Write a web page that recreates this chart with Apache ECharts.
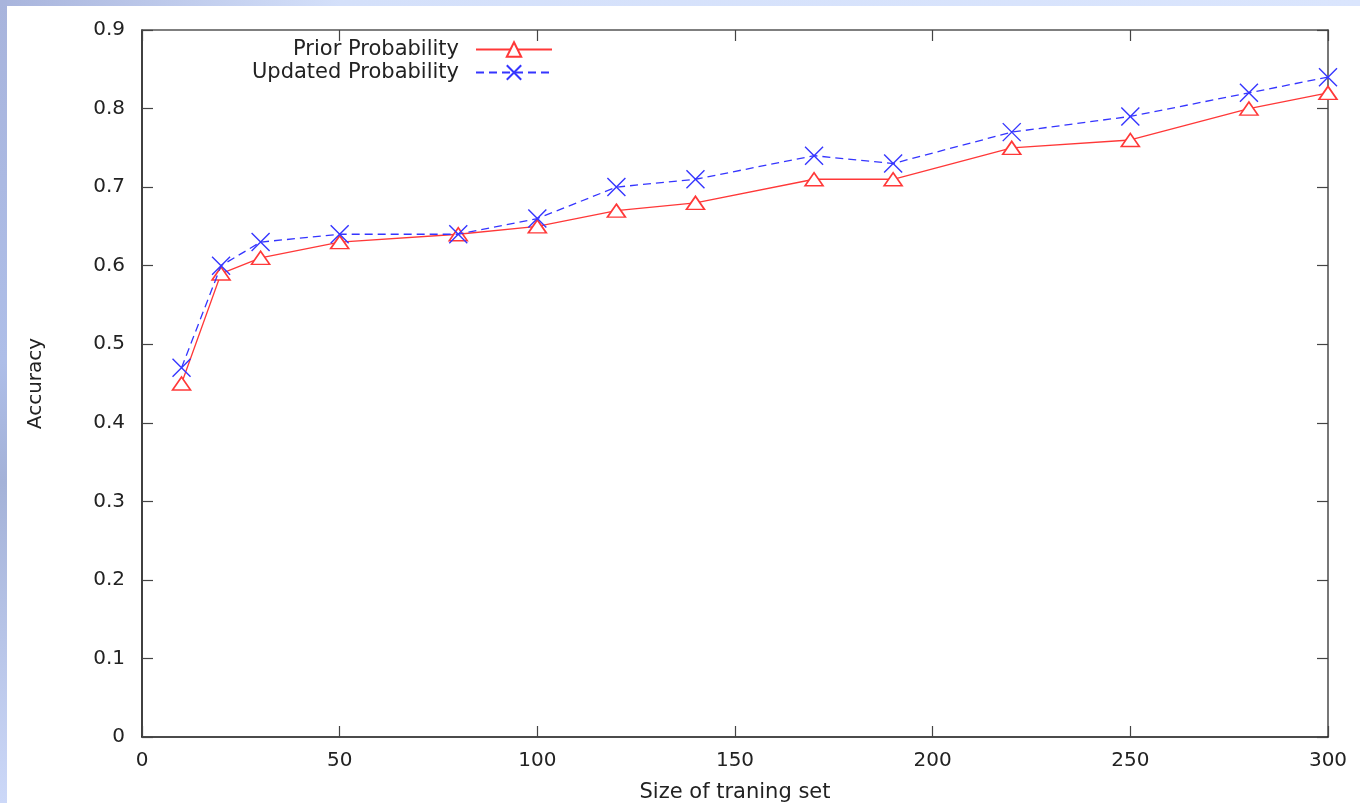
<!DOCTYPE html>
<html>
<head>
<meta charset="utf-8">
<script src="https://cdn.jsdelivr.net/npm/echarts@6/dist/echarts.min.js"></script>
<style>
  html, body { margin: 0; padding: 0; background: #fff; }
  #chart { width: 1370px; height: 803px; }
</style>
</head>
<body>
<div id="chart"></div>
<script>
// training set sizes
const trainSizes = [10, 20, 30, 50, 80, 100, 120, 140, 170, 190, 220, 250, 280, 300]
// accuracy values
const priorAcc = [0.45, 0.59, 0.61, 0.63, 0.64, 0.65, 0.67, 0.68, 0.71, 0.71, 0.75, 0.76, 0.80, 0.82]
const updatedAcc = [0.47, 0.60, 0.63, 0.64, 0.64, 0.66, 0.70, 0.71, 0.74, 0.73, 0.77, 0.79, 0.82, 0.84]
const seriesNames = ['Prior Probability', 'Updated Probability']

const font = 'DejaVu Sans, Liberation Sans, sans-serif'
const red = '#ff3838'
const blue = '#3535ff'

let chart = echarts.init(document.getElementById('chart'))

function pairs (xs, ys) {
  return xs.map((x, i) => [x, ys[i]])
}

let tickStyle = { inside: true, length: 11, lineStyle: { color: '#444', width: 1.2 } }

let legendBase = {
  right: 812,
  align: 'right',
  itemWidth: 76,
  itemHeight: 18,
  itemGap: 0,
  textStyle: { fontFamily: font, fontSize: 21, color: '#222', padding: [0, 12, 0, 0] }
}

let option = {
  backgroundColor: '#fff',
  animation: false,
  graphic: [
    {
      type: 'rect',
      shape: { x: 0, y: 0, width: 1360, height: 6 },
      style: {
        fill: new echarts.graphic.LinearGradient(0, 0, 1, 0, [
          { offset: 0, color: '#a8b4dc' },
          { offset: 0.25, color: '#d4e0fa' },
          { offset: 1, color: '#dae5fd' }
        ])
      }
    },
    {
      type: 'rect',
      shape: { x: 0, y: 0, width: 7, height: 803 },
      style: {
        fill: new echarts.graphic.LinearGradient(0, 0, 0, 1, [
          { offset: 0, color: '#a8b4dc' },
          { offset: 0.45, color: '#aebee8' },
          { offset: 0.6, color: '#a4b2d8' },
          { offset: 1, color: '#ccd8f8' }
        ])
      }
    }
  ],
  grid: {
    left: 142,
    right: 42,
    top: 30,
    bottom: 66,
    containLabel: false,
    outerBoundsMode: 'none'
  },
  legend: [
    Object.assign({ data: [seriesNames[0]], top: 34 }, legendBase),
    Object.assign({ data: [seriesNames[1]], top: 57 }, legendBase)
  ],
  xAxis: [
    {
      type: 'value',
      min: 0,
      max: 300,
      interval: 50,
      name: 'Size of traning set',
      nameLocation: 'middle',
      nameGap: 45,
      nameTextStyle: { fontFamily: font, fontSize: 21, color: '#222' },
      axisLine: { onZero: false, lineStyle: { color: '#111', width: 1.6 } },
      axisTick: tickStyle,
      axisLabel: { fontFamily: font, fontSize: 20, color: '#222', margin: 14 },
      splitLine: { show: false }
    },
    {
      type: 'value',
      position: 'top',
      min: 0,
      max: 300,
      interval: 50,
      axisLine: { show: true, onZero: false, lineStyle: { color: '#555', width: 1.6 } },
      axisTick: tickStyle,
      axisLabel: { show: false },
      splitLine: { show: false }
    }
  ],
  yAxis: [
    {
      type: 'value',
      min: 0,
      max: 0.9,
      interval: 0.1,
      name: 'Accuracy',
      nameLocation: 'middle',
      nameGap: 96,
      nameTextStyle: { fontFamily: font, fontSize: 20, color: '#222' },
      axisLine: { show: true, onZero: false, lineStyle: { color: '#111', width: 1.6 } },
      axisTick: tickStyle,
      axisLabel: { fontFamily: font, fontSize: 20, color: '#222', margin: 17 },
      splitLine: { show: false }
    },
    {
      type: 'value',
      position: 'right',
      min: 0,
      max: 0.9,
      interval: 0.1,
      axisLine: { show: true, onZero: false, lineStyle: { color: '#555', width: 1.6 } },
      axisTick: tickStyle,
      axisLabel: { show: false },
      splitLine: { show: false }
    }
  ],
  series: [
    {
      name: seriesNames[0],
      type: 'line',
      data: pairs(trainSizes, priorAcc),
      symbol: 'path://M5,0L10,8.6L0,8.6Z',
      symbolSize: [18, 13],
      itemStyle: { color: '#fff', borderColor: red, borderWidth: 1.6 },
      lineStyle: { color: red, width: 1.3 },
      z: 2
    },
    {
      name: seriesNames[1],
      type: 'line',
      data: pairs(trainSizes, updatedAcc),
      symbol: 'path://M0,0L10,10M10,0L0,10',
      symbolSize: 18,
      itemStyle: { color: 'rgba(0,0,0,0)', borderColor: blue, borderWidth: 1.4 },
      lineStyle: { color: blue, width: 1.3, type: [8, 5] },
      z: 3
    }
  ]
}

chart.setOption(option)
</script>
</body>
</html>
